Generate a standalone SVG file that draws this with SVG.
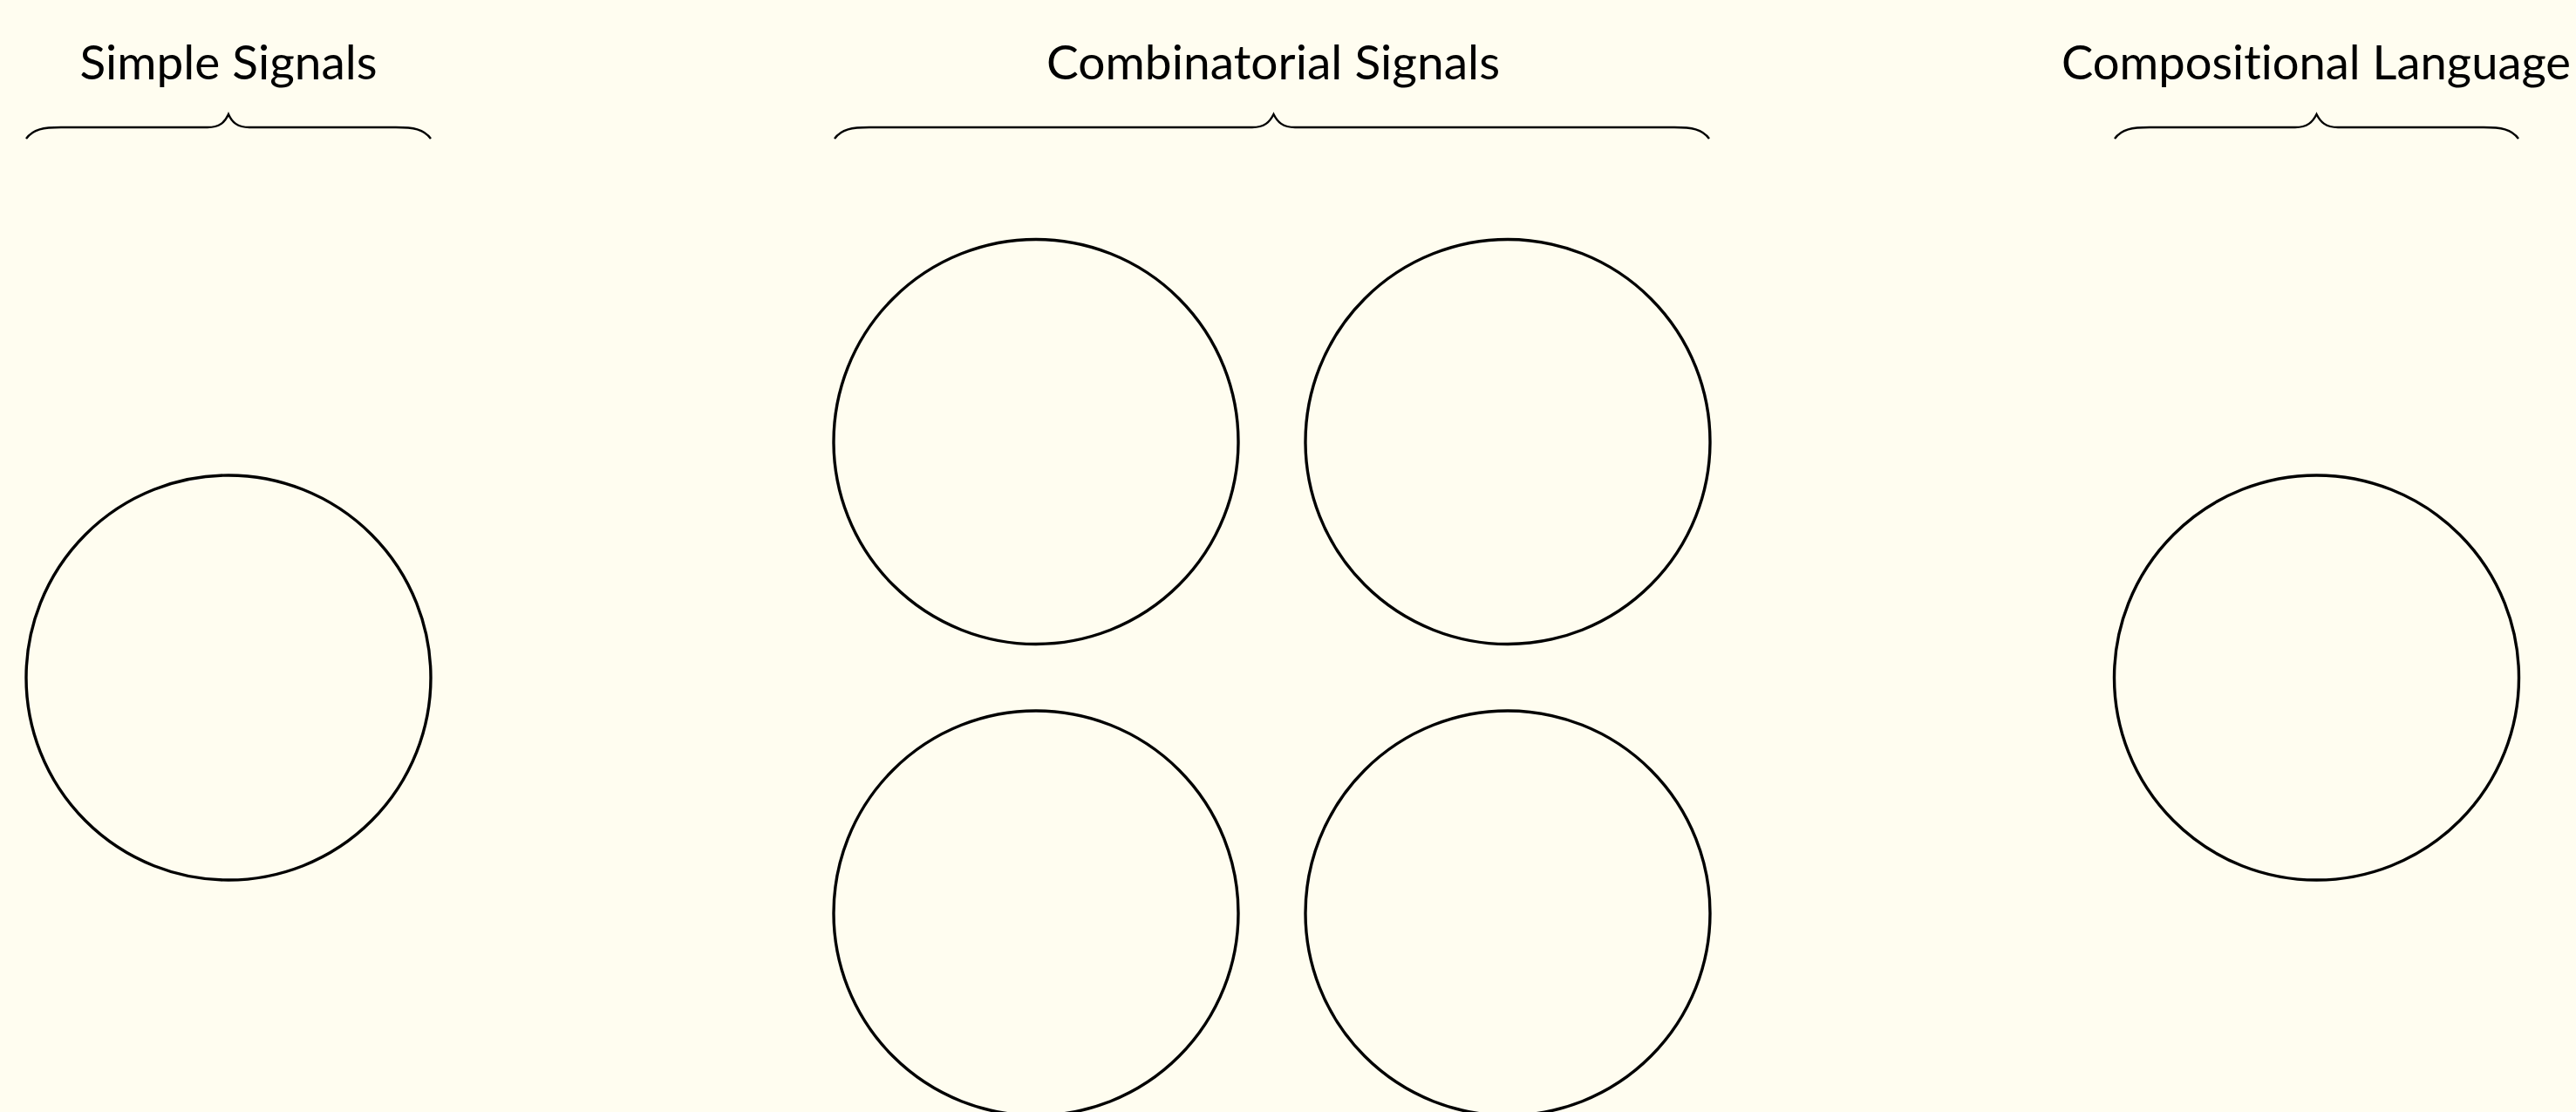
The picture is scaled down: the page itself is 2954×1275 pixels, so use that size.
<svg xmlns="http://www.w3.org/2000/svg" width="2954" height="1275" viewBox="0 0 2954 1275">
<style>
.bg{fill:#FFFDF0}
.lbl{font-family:"Lato","Liberation Sans",sans-serif;font-size:54px;font-weight:400;font-variant-ligatures:none;fill:#000;text-anchor:middle}
.brace{fill:none;stroke:#000;stroke-width:2.4}
.node{fill:none;stroke:#000;stroke-width:3.4}
</style>
<rect class="bg" x="0" y="0" width="2954" height="1275"/>
<g id="headers">
<g id="simple-header">
<text class="lbl" x="262" y="91" textLength="341" lengthAdjust="spacingAndGlyphs">Simple Signals</text>
<path class="brace" d="M30,159 C38,148 50,146 70,146 L238,146 C252,146 258,140 262,131 C266,140 272,146 286,146 L454,146 C474,146 486,148 494,159"/>
</g>
<g id="combinatorial-header">
<text class="lbl" x="1460" y="91" textLength="520" lengthAdjust="spacingAndGlyphs">Combinatorial Signals</text>
<path class="brace" d="M957,159 C965,148 977,146 997,146 L1436,146 C1450,146 1456,140 1460.5,131 C1465,140 1471,146 1485,146 L1920,146 C1940,146 1952,148 1960,159"/>
</g>
<g id="compositional-header">
<text class="lbl" x="2656" y="91" textLength="584" lengthAdjust="spacingAndGlyphs">Compositional Language</text>
<path class="brace" d="M2425,159 C2433,148 2445,146 2465,146 L2632,146 C2646,146 2652,140 2656.5,131 C2661,140 2667,146 2681,146 L2848,146 C2868,146 2880,148 2888,159"/>
</g>
</g>
<g id="node-simple"><circle class="node" cx="262" cy="777" r="232"/></g>
<g id="node-comb-1"><circle class="node" cx="1188" cy="506.5" r="232"/></g>
<g id="node-comb-2"><circle class="node" cx="1729" cy="506.5" r="232"/></g>
<g id="node-comb-3"><circle class="node" cx="1188" cy="1047" r="232"/></g>
<g id="node-comb-4"><circle class="node" cx="1729" cy="1047" r="232"/></g>
<g id="node-compositional"><circle class="node" cx="2656.5" cy="777" r="232"/></g>
<g id="connectors"></g>
</svg>
